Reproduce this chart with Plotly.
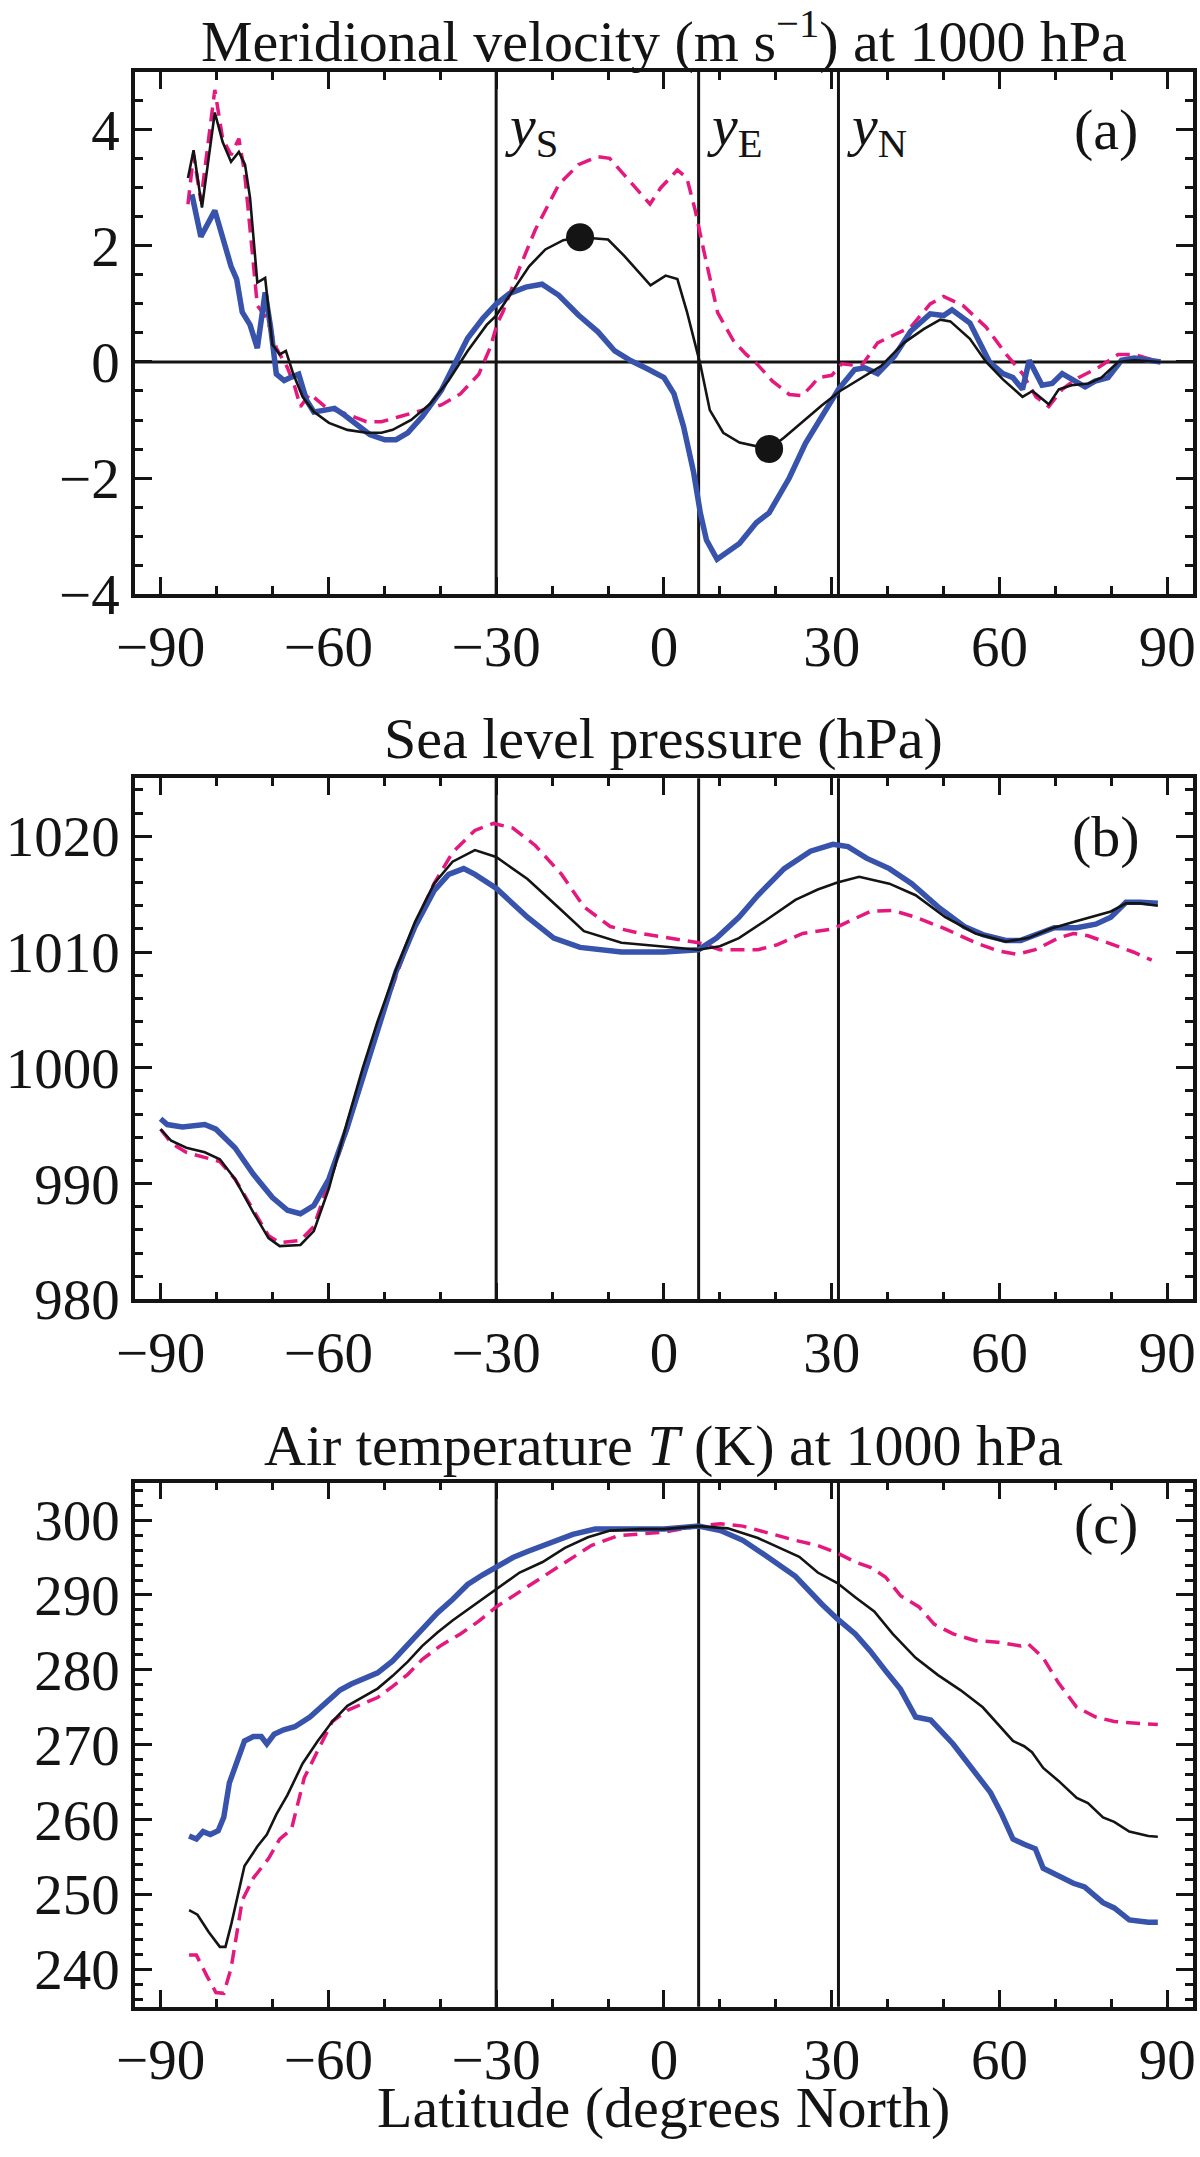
import plotly.graph_objs as go

# ---- panel (a): meridional velocity at 1000 hPa ----
lat_a_black = [-85.1, -84.1, -82.6, -80.3, -78.9, -77.4, -76.0, -74.9, -74.0, -72.7, -71.3, -70.0, -68.7, -67.6,
               -66.3, -64.6, -62.6, -59.9, -56.6, -53.2, -50.5, -48.5, -45.2, -41.8, -38.5, -35.1, -31.7, -30.0,
               -26.8, -24.1, -21.2, -18.0, -15.0, -10.0, -7.1, -2.4, 0.3, 2.4, 4.1, 6.5, 8.2, 10.6, 13.5, 16.5,
               18.8, 21.5, 25.3, 28.2, 31.5, 35.3, 38.8, 42.9, 46.5, 49.4, 51.2, 54.7, 57.6, 60.6, 64.1, 65.9,
               68.8, 70.6, 72.9, 75.9, 78.2, 81.2, 84.1, 88.8]
v_a_black = [3.17, 3.65, 2.66, 4.30, 3.79, 3.45, 3.62, 3.40, 2.83, 1.37, 1.45, 0.30, 0.13, 0.19,
             -0.20, -0.60, -0.86, -1.05, -1.17, -1.22, -1.22, -1.17, -1.00, -0.72, -0.32, 0.19, 0.64, 0.80,
             1.26, 1.65, 1.94, 2.10, 2.15, 2.11, 1.83, 1.32, 1.49, 1.43, 0.87, -0.04, -0.83, -1.22, -1.39, -1.45,
             -1.50, -1.30, -0.98, -0.75, -0.50, -0.27, -0.07, 0.33, 0.57, 0.73, 0.70, 0.40, 0.00, -0.30, -0.60, -0.50,
             -0.73, -0.47, -0.40, -0.37, -0.27, 0.00, 0.03, 0.00]

lat_a_pink = [-85.1, -84.1, -82.8, -80.3, -78.9, -77.4, -76.0, -75.0, -73.7, -72.7, -71.0, -69.3, -67.3, -66.0,
              -65.0, -63.3, -60.6, -57.2, -53.2, -50.5, -47.2, -43.2, -39.8, -36.4, -33.1, -31.1, -29.7, -28.8,
              -25.9, -23.0, -18.8, -15.3, -11.8, -9.7, -7.1, -4.7, -2.5, -0.6, 2.4, 4.1, 5.6, 7.1, 9.6, 12.4,
              14.7, 16.5, 19.4, 22.4, 24.7, 26.5, 27.6, 30.0, 31.8, 35.3, 38.2, 41.2, 44.1, 47.6, 50.0, 53.5,
              57.6, 61.2, 64.1, 66.5, 68.8, 71.2, 74.1, 77.6, 81.2, 84.1, 87.6]
v_a_pink = [2.72, 3.57, 2.78, 4.69, 3.85, 3.57, 3.85, 3.28, 1.99, 0.97, 0.75, 0.24, -0.10, -0.43,
            -0.77, -0.55, -0.77, -0.88, -1.03, -1.03, -0.94, -0.83, -0.74, -0.55, -0.21, 0.24, 0.69, 0.86,
            1.60, 2.28, 3.06, 3.40, 3.54, 3.51, 3.23, 2.95, 2.72, 3.00, 3.31, 3.17, 2.61, 1.93, 0.85, 0.37,
            0.13, -0.02, -0.33, -0.56, -0.58, -0.40, -0.27, -0.23, -0.03, -0.07, 0.33, 0.47, 0.60, 1.00, 1.13, 0.97,
            0.60, 0.13, -0.20, -0.60, -0.77, -0.47, -0.27, -0.10, 0.13, 0.13, 0.03]

lat_a_blue = [-84.4, -82.8, -80.3, -78.9, -77.4, -76.4, -75.4, -74.0, -72.7, -71.3, -70.3, -69.3, -67.9, -66.6,
              -65.3, -63.9, -62.6, -60.6, -58.9, -57.2, -55.2, -52.6, -49.9, -47.9, -45.8, -43.2, -39.8, -37.1,
              -35.1, -32.4, -30.0, -27.6, -24.7, -21.8, -18.8, -15.3, -11.8, -8.8, -5.9, -2.9, 0.0, 1.8, 3.5,
              5.3, 6.5, 7.6, 9.5, 13.5, 16.5, 18.8, 22.4, 25.3, 28.2, 31.2, 34.1, 35.9, 38.2, 41.2, 44.1, 47.6,
              50.0, 51.5, 54.7, 58.2, 60.6, 62.4, 64.1, 65.3, 67.6, 69.4, 71.2, 72.9, 75.3, 77.1, 79.4, 81.8,
              84.1, 88.8]
v_a_blue = [2.89, 2.16, 2.61, 2.16, 1.65, 1.43, 0.86, 0.64, 0.24, 1.20, 0.58, -0.21, -0.32, -0.26,
            -0.21, -0.66, -0.86, -0.83, -0.80, -0.91, -1.05, -1.25, -1.34, -1.34, -1.22, -0.94, -0.49, 0.02,
            0.41, 0.75, 1.00, 1.18, 1.29, 1.34, 1.15, 0.81, 0.52, 0.19, 0.02, -0.12, -0.27, -0.55, -1.11,
            -1.90, -2.60, -3.07, -3.40, -3.13, -2.77, -2.60, -2.00, -1.40, -0.93, -0.47, -0.13, -0.10, -0.20, 0.10, 0.53, 0.83,
            0.80, 0.90, 0.67, 0.00, -0.20, -0.27, -0.47, 0.03, -0.40, -0.37, -0.20, -0.30, -0.43, -0.33, -0.27, 0.03,
            0.07, 0.00]

dot_lat = [-15.0, 18.8]
dot_v = [2.15, -1.50]

# ---- panel (b): sea level pressure ----
lat_b_black = [-90.0, -88.1, -85.4, -82.1, -79.4, -76.7, -73.4, -70.7, -68.7, -65.0, -62.6, -59.9, -56.6, -53.9,
               -51.2, -47.9, -44.5, -41.1, -37.8, -33.8, -30.0, -24.4, -19.0, -14.3, -7.6, -0.2, 6.2, 10.0, 13.4,
               18.1, 23.5, 27.5, 31.0, 34.9, 40.3, 45.0, 50.3, 55.7, 61.1, 65.1, 69.1, 73.2, 77.2, 79.9, 82.6,
               85.2, 88.3]
p_b_black = [994.7, 993.7, 993.1, 992.7, 992.1, 990.4, 987.5, 985.3, 984.6, 984.7, 985.9, 989.6, 995.4, 999.9,
             1004.0, 1008.5, 1012.6, 1015.9, 1017.8, 1018.8, 1018.2, 1016.3, 1013.9, 1011.8, 1010.8, 1010.5, 1010.2,
             1010.5, 1011.2, 1012.7, 1014.5, 1015.4, 1016.0, 1016.5, 1015.9, 1014.9, 1013.0, 1011.6, 1010.9, 1011.2,
             1012.0, 1012.6, 1013.1, 1013.5, 1014.2, 1014.2, 1014.0]

lat_b_pink = [-90.0, -88.1, -85.4, -82.1, -79.4, -76.7, -73.4, -70.7, -68.7, -65.0, -62.6, -59.9, -56.6, -53.9,
              -51.2, -47.9, -44.5, -41.1, -37.8, -33.8, -30.5, -27.0, -23.0, -18.3, -14.3, -9.6, -4.2, -0.2, 3.4,
              6.2, 10.0, 16.8, 20.1, 24.8, 30.2, 33.6, 36.9, 40.9, 45.0, 50.3, 55.7, 59.7, 63.1, 66.4, 70.5, 73.2,
              75.8, 79.9, 83.9, 87.2]
p_b_pink = [994.7, 993.5, 992.7, 992.3, 991.9, 990.4, 987.7, 985.5, 984.9, 985.1, 986.3, 990.0, 994.7, 999.3,
            1003.4, 1007.9, 1012.4, 1015.9, 1018.6, 1020.5, 1021.1, 1020.7, 1019.2, 1016.7, 1013.9, 1012.2, 1011.6,
            1011.3, 1011.0, 1010.8, 1010.2, 1010.2, 1010.6, 1011.6, 1012.0, 1012.8, 1013.5, 1013.6, 1013.0, 1012.0,
            1010.8, 1010.1, 1009.8, 1010.2, 1011.2, 1011.6, 1011.4, 1010.7, 1010.0, 1009.3]

lat_b_blue = [-90.0, -88.8, -86.1, -82.1, -80.1, -76.7, -73.4, -70.0, -67.3, -65.0, -62.6, -59.9, -56.6, -53.9,
              -51.2, -47.9, -44.5, -41.1, -38.5, -35.8, -33.8, -30.0, -24.4, -19.7, -15.0, -7.6, 0.0, 3.4, 6.2,
              9.4, 13.4, 16.8, 21.5, 26.2, 30.2, 32.9, 36.2, 40.3, 44.3, 49.0, 53.7, 57.0, 61.1, 63.8, 66.4, 69.8,
              73.8, 77.2, 79.9, 82.6, 85.2, 88.3]
p_b_blue = [995.6, 995.1, 994.9, 995.1, 994.7, 993.1, 990.8, 988.8, 987.7, 987.4, 988.1, 990.4, 994.9, 999.1,
            1003.2, 1008.3, 1012.2, 1015.3, 1016.7, 1017.2, 1016.7, 1015.5, 1013.0, 1011.2, 1010.4, 1010.0, 1010.0,
            1010.1, 1010.2, 1011.2, 1013.0, 1014.9, 1017.2, 1018.7, 1019.3, 1019.1, 1018.1, 1017.2, 1015.9, 1013.9,
            1012.2, 1011.5, 1011.0, 1011.0, 1011.5, 1012.1, 1012.1, 1012.4, 1013.0, 1014.3, 1014.3, 1014.2]

# ---- panel (c): air temperature at 1000 hPa ----
lat_c_black = [-84.9, -83.4, -81.4, -79.4, -78.4, -77.4, -75.0, -72.7, -71.0, -69.3, -67.3, -64.6, -61.9, -59.3,
               -56.6, -53.9, -51.2, -48.5, -45.8, -43.2, -40.5, -37.8, -34.4, -30.0, -25.8, -21.7, -17.7, -13.6,
               -9.6, -4.2, 0.0, 6.2, 11.4, 16.8, 21.5, 24.2, 27.5, 31.0, 34.2, 37.6, 40.9, 45.0, 49.0, 53.0, 57.0,
               59.7, 62.4, 64.4, 65.8, 67.8, 70.5, 73.8, 75.8, 78.5, 80.5, 83.2, 86.6, 88.3]
t_c_black = [247.9, 247.3, 245.0, 243.0, 243.0, 245.9, 253.8, 256.4, 258.0, 260.7, 263.3, 267.5, 270.5, 273.1,
             275.2, 276.3, 277.5, 279.2, 281.1, 283.2, 285.0, 286.6, 288.4, 290.7, 293.0, 294.4, 296.3, 297.7,
             298.6, 298.8, 298.8, 299.2, 298.9, 297.6, 296.0, 295.1, 293.0, 291.6, 289.7, 287.8, 284.8, 281.6, 279.3,
             277.3, 275.0, 272.7, 270.5, 269.8, 269.0, 266.9, 265.2, 262.9, 262.2, 260.3, 259.7, 258.4, 257.8, 257.7]

lat_c_pink = [-84.9, -83.6, -81.7, -80.1, -78.7, -77.4, -75.4, -73.4, -70.7, -68.7, -66.6, -64.3, -61.9, -59.3,
              -56.6, -53.9, -51.2, -48.5, -45.8, -43.2, -39.8, -36.4, -33.1, -30.0, -25.8, -21.7, -17.7, -13.0,
              -8.3, -4.2, 0.0, 6.2, 10.1, 14.1, 18.8, 23.5, 27.5, 31.0, 34.2, 36.9, 39.6, 42.3, 45.6, 48.3, 51.7,
              55.7, 59.7, 63.8, 65.1, 67.8, 70.5, 73.8, 77.2, 80.5, 83.9, 88.3]
t_c_pink = [241.9, 241.9, 239.1, 236.9, 236.8, 240.1, 249.2, 252.2, 254.8, 257.4, 258.7, 265.6, 269.2, 273.1,
            274.6, 275.4, 276.3, 277.8, 279.4, 281.4, 283.3, 284.8, 286.5, 288.4, 290.4, 292.4, 294.3, 296.6,
            297.9, 298.1, 298.4, 299.2, 299.5, 299.2, 298.2, 297.3, 296.6, 295.6, 294.4, 293.7, 292.4, 289.9, 288.4,
            286.1, 284.8, 283.9, 283.7, 283.2, 283.5, 281.6, 278.3, 275.0, 273.7, 273.1, 272.9, 272.7]

lat_c_blue = [-84.9, -83.6, -82.4, -81.1, -79.7, -78.7, -77.7, -76.7, -75.0, -73.4, -72.0, -71.0, -69.7, -68.0,
              -66.0, -63.3, -60.6, -57.9, -55.9, -53.9, -51.2, -48.5, -45.8, -43.2, -40.5, -37.8, -35.1, -32.4,
              -30.0, -27.0, -24.4, -20.3, -16.3, -12.3, -7.6, -4.2, 0.0, 3.4, 6.2, 10.1, 14.1, 18.1, 23.5, 28.2,
              31.0, 34.2, 36.9, 39.6, 42.3, 45.0, 47.7, 51.7, 55.0, 58.4, 60.4, 62.4, 64.4, 66.4, 67.8, 70.5, 73.2,
              75.2, 78.5, 80.5, 83.2, 86.6, 88.3]
t_c_blue = [257.8, 257.4, 258.4, 258.0, 258.5, 260.3, 264.9, 266.9, 270.5, 271.1, 271.1, 270.1, 271.4, 272.0,
            272.4, 273.7, 275.4, 277.3, 278.1, 278.8, 279.6, 281.2, 283.3, 285.5, 287.6, 289.4, 291.4, 292.7,
            293.8, 295.0, 295.8, 296.9, 298.1, 298.8, 298.9, 298.8, 298.8, 299.0, 299.2, 298.6, 297.3, 295.3, 292.5,
            288.8, 286.8, 284.8, 282.5, 279.9, 277.4, 273.7, 273.3, 270.1, 266.9, 263.6, 260.7, 257.4, 256.7, 256.1,
            253.5, 252.5, 251.5, 251.0, 248.9, 248.2, 246.6, 246.3, 246.3]

# latitudes of the reference lines y_S, y_E, y_N
ref_lat = [-30.0, 6.2, 31.2]
ref_names = ['S', 'E', 'N']

BLACK = 'rgb(20,20,20)'
BLUE = 'rgb(55,83,171)'
PINK = 'rgb(229,24,126)'
FONT = 'Liberation Serif, Times New Roman, serif'
FS = 57      # tick labels
FS_T = 58    # titles

data = []
for xa, ya, series in [
    ('x', 'y', [(lat_a_pink, v_a_pink, 'pink'), (lat_a_blue, v_a_blue, 'blue'), (lat_a_black, v_a_black, 'black')]),
    ('x2', 'y2', [(lat_b_pink, p_b_pink, 'pink'), (lat_b_blue, p_b_blue, 'blue'), (lat_b_black, p_b_black, 'black')]),
    ('x3', 'y3', [(lat_c_pink, t_c_pink, 'pink'), (lat_c_blue, t_c_blue, 'blue'), (lat_c_black, t_c_black, 'black')]),
]:
    for xs, ys, kind in series:
        if kind == 'pink':
            line = dict(color=PINK, width=3.5, dash='14px,8px')
        elif kind == 'blue':
            line = dict(color=BLUE, width=5.5)
        else:
            line = dict(color=BLACK, width=2.6)
        data.append(go.Scatter(x=xs, y=ys, mode='lines', line=line, xaxis=xa, yaxis=ya, showlegend=False))

data.append(go.Scatter(x=dot_lat, y=dot_v, mode='markers', marker=dict(color=BLACK, size=28),
                       xaxis='x', yaxis='y', showlegend=False))

W, H = 1200, 2157
xdom = [118 / W, 1196 / W]


def ydom(top, bottom):
    return [1 - bottom / H, 1 - top / H]


def xaxis_style(anchor):
    return dict(domain=xdom, anchor=anchor, range=[-94.6, 94.6], tick0=0, dtick=30,
                ticks='inside', ticklen=17, tickwidth=3, tickcolor=BLACK,
                minor=dict(dtick=10, tick0=0, ticks='inside', ticklen=8, tickwidth=3, tickcolor=BLACK),
                showline=True, linewidth=3.5, linecolor=BLACK, mirror='ticks',
                showgrid=False, zeroline=False, tickfont=dict(family=FONT, size=FS, color=BLACK))


def yaxis_style(anchor, dom, rng, dtick, minor_dtick):
    return dict(domain=dom, anchor=anchor, range=rng, dtick=dtick,
                ticks='inside', ticklen=17, tickwidth=3, tickcolor=BLACK,
                minor=dict(dtick=minor_dtick, ticks='inside', ticklen=8, tickwidth=3, tickcolor=BLACK),
                showline=True, linewidth=3.5, linecolor=BLACK, mirror='ticks',
                showgrid=False, zeroline=False, tickfont=dict(family=FONT, size=FS, color=BLACK))


shapes = []
for xr, yr in [('x', 'y'), ('x2', 'y2'), ('x3', 'y3')]:
    for lat in ref_lat:
        shapes.append(dict(type='line', xref=xr, yref=yr + ' domain', x0=lat, x1=lat, y0=0, y1=1,
                           line=dict(color=BLACK, width=3), layer='below'))
shapes.append(dict(type='line', xref='x domain', yref='y', x0=0, x1=1, y0=0, y1=0,
                   line=dict(color=BLACK, width=3), layer='below'))

title_x = (xdom[0] + xdom[1]) / 2
annotations = [
    dict(text='Meridional velocity (m s<sup>−1</sup>) at 1000 hPa', x=title_x, y=1 - 38 / H),
    dict(text='Sea level pressure (hPa)', x=title_x, y=1 - 750 / H),
    dict(text='Air temperature <i>T</i> (K) at 1000 hPa', x=title_x, y=1 - 1467 / H),
    dict(text='Latitude (degrees North)', x=title_x, y=1 - 2139 / H),
]
for a in annotations:
    a.update(xref='paper', yref='paper', xanchor='center', yanchor='middle', showarrow=False,
             font=dict(family=FONT, size=FS_T, color=BLACK))

for lab, xr, yr, yv in [('(a)', 'x', 'y', 4.0), ('(b)', 'x2', 'y2', 1020.0), ('(c)', 'x3', 'y3', 299.5)]:
    annotations.append(dict(text=lab, x=79, y=yv, xref=xr, yref=yr, showarrow=False, xanchor='center',
                            yanchor='middle', font=dict(family=FONT, size=FS_T, color=BLACK)))

for lat, nm in zip(ref_lat, ref_names):
    annotations.append(dict(text='<i>y</i><sub>' + nm + '</sub>', x=lat + 1.2, y=4.0, xref='x', yref='y',
                            showarrow=False, xanchor='left', yanchor='middle',
                            font=dict(family=FONT, size=FS_T, color=BLACK)))

layout = go.Layout(
    width=W, height=H,
    margin=dict(l=0, r=0, t=0, b=0),
    paper_bgcolor='white', plot_bgcolor='white',
    showlegend=False,
    xaxis=xaxis_style('y'),
    xaxis2=xaxis_style('y2'),
    xaxis3=xaxis_style('y3'),
    yaxis=yaxis_style('x', ydom(73, 603), [-4, 5], 2, 0.5),
    yaxis2=yaxis_style('x2', ydom(790, 1319), [980, 1025], 10, 2),
    yaxis3=yaxis_style('x3', ydom(1505, 2037), [235, 305], 10, 2),
    shapes=shapes,
    annotations=annotations,
)

fig = go.Figure(data=data, layout=layout)

# the page's default body margin would push the 1200x2157 figure out of the window
fig.write_html("out.html", config={'displayModeBar': False},
               post_script="document.body.style.margin='0px';document.body.style.overflow='hidden';")
